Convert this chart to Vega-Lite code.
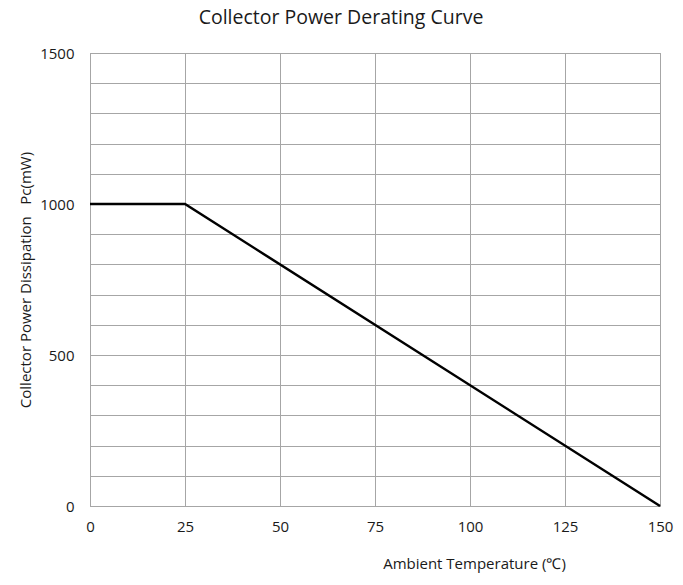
{
  "$schema": "https://vega.github.io/schema/vega-lite/v6.json",
  "width": 570,
  "height": 453,
  "autosize": "none",
  "padding": {"left": 90, "top": 53, "right": 23, "bottom": 79},
  "background": "white",
  "title": {
    "text": "Collector Power Derating Curve",
    "font": "Open Sans",
    "fontSize": 19.5,
    "fontWeight": "normal",
    "color": "#1a1a1a",
    "anchor": "middle",
    "dx": -34,
    "offset": 18
  },
  "config": {
    "view": {"stroke": "#8c8c8c", "strokeWidth": 1},
    "axis": {
      "labelFont": "Open Sans",
      "titleFont": "Open Sans",
      "labelColor": "#1a1a1a",
      "titleColor": "#1a1a1a",
      "gridColor": "#a6a6a6",
      "gridOpacity": 1,
      "gridWidth": 1,
      "domain": false,
      "ticks": false
    }
  },
  "data": {
    "values": [
      {"temp": 0, "power": 1000},
      {"temp": 25, "power": 1000},
      {"temp": 150, "power": 0}
    ]
  },
  "mark": {"type": "line", "color": "#000000", "strokeWidth": 2.5},
  "encoding": {
    "x": {
      "field": "temp",
      "type": "quantitative",
      "scale": {"domain": [0, 150], "nice": false, "zero": false},
      "axis": {
        "values": [0, 25, 50, 75, 100, 125, 150],
        "title": "Ambient Temperature (℃)",
        "titleFontSize": 15,
        "titleFontWeight": "normal",
        "titleX": 384,
        "titleY": 50,
        "labelFontSize": 15,
        "labelPadding": 13,
        "labelFlush": false
      }
    },
    "y": {
      "field": "power",
      "type": "quantitative",
      "scale": {"domain": [0, 1500], "nice": false},
      "axis": {
        "values": [0, 100, 200, 300, 400, 500, 600, 700, 800, 900, 1000, 1100, 1200, 1300, 1400, 1500],
        "labelExpr": "datum.value % 500 === 0 ? datum.label : ''",
        "format": "d",
        "title": "Collector Power Dissipation\u00a0\u00a0 Pc(mW)",
        "titleFontSize": 15,
        "titleFontWeight": "normal",
        "titlePadding": 6,
        "labelFontSize": 15,
        "labelPadding": 16,
        "labelFlush": false
      }
    }
  }
}
